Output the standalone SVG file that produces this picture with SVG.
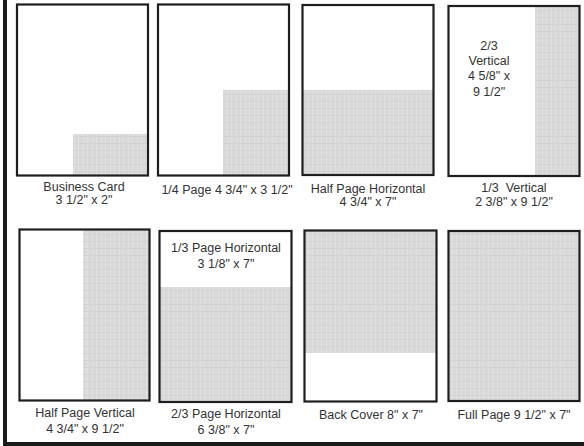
<svg xmlns="http://www.w3.org/2000/svg" width="584" height="446" viewBox="0 0 584 446">
<defs>
<pattern id="tex" width="9" height="7" patternUnits="userSpaceOnUse">
<rect width="9" height="7" fill="#d9d9d9"/>
<path d="M2.5 0V7M6.5 0V7" stroke="#e2e2e2" stroke-width="1"/>
<path d="M0 3.5H9" stroke="#d3d3d3" stroke-width="1"/>
</pattern>
</defs>
<style>
.fr{fill:none;stroke:#1e1e1e;stroke-width:2.2}
.sh{fill:url(#tex)}
text{font-family:"Liberation Sans",Arial,sans-serif;font-size:12.5px;fill:#333;text-anchor:middle;white-space:pre}
</style>
<rect width="584" height="446" fill="#fff"/>
<g id="frame">
<rect x="3" y="0" width="4" height="446" fill="#1a1a1a"/>
<rect x="3" y="442" width="581" height="4" fill="#1a1a1a"/>
</g>
<g id="business-card">
<rect class="sh" x="73" y="134" width="75" height="41"/>
<rect class="fr" x="17" y="4.5" width="131" height="171"/>
<text x="84" y="191">Business Card</text>
<text x="84" y="204">3 1/2" x 2"</text>
</g>
<g id="quarter-page">
<rect class="sh" x="223" y="90" width="66" height="85"/>
<rect class="fr" x="158" y="4.5" width="131" height="171"/>
<text x="227" y="194">1/4 Page 4 3/4" x 3 1/2"</text>
</g>
<g id="half-page-horizontal">
<rect class="sh" x="302.5" y="90" width="131" height="85"/>
<rect class="fr" x="302.5" y="5" width="131" height="170"/>
<text x="368" y="193">Half Page Horizontal</text>
<text x="368" y="206">4 3/4" x 7"</text>
</g>
<g id="third-vertical">
<rect class="sh" x="535" y="6" width="44.5" height="170"/>
<rect class="fr" x="448.5" y="6" width="131" height="170"/>
<text x="489" y="50">2/3</text>
<text x="489" y="65">Vertical</text>
<text x="489" y="80">4 5/8" x</text>
<text x="489" y="96">9 1/2"</text>
<text x="514" y="192" xml:space="preserve">1/3  Vertical</text>
<text x="514" y="206">2 3/8" x 9 1/2"</text>
</g>
<g id="half-page-vertical">
<rect class="sh" x="83" y="229.5" width="66.5" height="171"/>
<rect class="fr" x="19.5" y="229.5" width="130" height="171"/>
<text x="85" y="417">Half Page Vertical</text>
<text x="85" y="433">4 3/4" x 9 1/2"</text>
</g>
<g id="two-thirds-horizontal">
<rect class="sh" x="159.5" y="287" width="132" height="115"/>
<rect class="fr" x="159.5" y="231" width="132" height="171"/>
<text x="226" y="252">1/3 Page Horizontal</text>
<text x="226" y="268">3 1/8" x 7"</text>
<text x="226" y="418">2/3 Page Horizontal</text>
<text x="226" y="434">6 3/8" x 7"</text>
</g>
<g id="back-cover">
<rect class="sh" x="304.5" y="230.5" width="132" height="122.5"/>
<rect class="fr" x="304.5" y="230.5" width="132" height="171"/>
<text x="371" y="419">Back Cover 8" x 7"</text>
</g>
<g id="full-page">
<rect class="sh" x="448.5" y="231" width="131" height="170"/>
<rect class="fr" x="448.5" y="231" width="131" height="170"/>
<text x="514" y="419">Full Page 9 1/2" x 7"</text>
</g>
</svg>
